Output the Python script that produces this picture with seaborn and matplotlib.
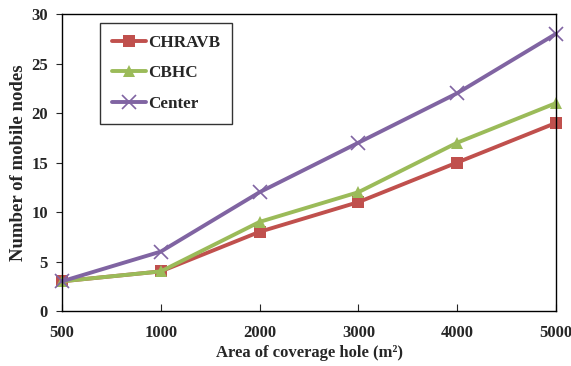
import matplotlib
matplotlib.use("Agg")
import matplotlib.pyplot as plt
import seaborn as sns
import pandas as pd
import numpy as np

categories = ["500", "1000", "2000", "3000", "4000", "5000"]
chravb = [3, 4, 8, 11, 15, 19]
cbhc = [3, 4, 9, 12, 17, 21]
center = [3, 6, 12, 17, 22, 28]

sns.set_style("ticks")
plt.rcParams['font.family'] = ['Liberation Serif', 'DejaVu Serif']
plt.rcParams['font.weight'] = 'bold'

pos = np.arange(len(categories))
df = pd.DataFrame({
    "pos": np.tile(pos, 3),
    "val": chravb + cbhc + center,
    "series": ["CHRAVB"] * 6 + ["CBHC"] * 6 + ["Center"] * 6,
})

fig = plt.figure(figsize=(5.71, 3.66), dpi=100)
ax = fig.add_axes([62/571, 1 - 311/366, (556-62)/571, (311-14)/366])

styles = {
    "CHRAVB": dict(color="#C0504D", marker="s", ms=9),
    "CBHC": dict(color="#9BBB59", marker="^", ms=9),
    "Center": dict(color="#8064A2", marker="x", ms=10),
}
for name, st in styles.items():
    sub = df[df.series == name]
    sns.lineplot(data=sub, x="pos", y="val", ax=ax, color=st["color"], marker=st["marker"],
                 markersize=st["ms"], linewidth=2.8, markeredgewidth=1.2 if st["marker"] == "x" else 0,
                 markeredgecolor=st["color"], label=name, clip_on=False)

ax.set_xlim(0, 5)
ax.set_ylim(0, 30)
ax.set_xticks(pos)
ax.set_xticklabels(categories)
ax.set_yticks(range(0, 31, 5))
for s in ax.spines.values():
    s.set_linewidth(1.0)
    s.set_color("black")
ax.tick_params(axis="x", direction="in", length=5, pad=10, labelsize=12)
ax.tick_params(axis="y", direction="out", length=4, pad=6, labelsize=12)
for lab in ax.get_xticklabels() + ax.get_yticklabels():
    lab.set_fontweight("bold")
ax.set_xlabel("Area of coverage hole (m²)", fontsize=12, fontweight="bold", labelpad=3)
ax.set_ylabel("Number of mobile nodes", fontsize=13.5, fontweight="bold", labelpad=3)

leg = ax.legend(loc="upper left", bbox_to_anchor=(38/494, 1 - 9/297), frameon=True, fancybox=False,
                edgecolor="black", prop={"weight": "bold", "size": 12.3}, handlelength=2.0,
                handletextpad=0.1, labelspacing=0.85, borderpad=0.7, borderaxespad=0)
leg.get_frame().set_linewidth(1.0)

fig.savefig("out.png", dpi=100)
